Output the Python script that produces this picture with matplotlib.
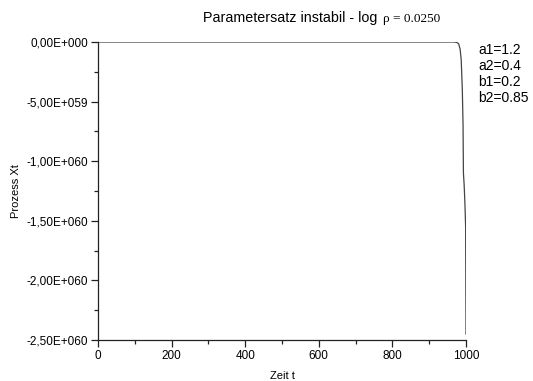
import matplotlib
matplotlib.use("Agg")
import matplotlib.pyplot as plt
from matplotlib.ticker import FixedLocator, FixedFormatter, MultipleLocator

# Data (time t, process value in units of 1e60)
t_vals = [0, 500, 900, 950, 965, 970, 975, 980, 984, 987, 990, 992, 993, 995, 997, 998, 999, 1000]
x_vals_e60 = [0, 0, 0, 0, 0, -0.001, -0.004, -0.015, -0.06, -0.15, -0.4, -0.7, -1.1, -1.2, -1.35, -1.45, -1.55, -2.45]
x_vals = [v * 1e60 for v in x_vals_e60]

y_ticks = [0, -5e59, -1e60, -1.5e60, -2e60, -2.5e60]
y_tick_labels = ["0,00E+000", "-5,00E+059", "-1,00E+060", "-1,50E+060", "-2,00E+060", "-2,50E+060"]
x_ticks = [0, 200, 400, 600, 800, 1000]
x_tick_labels = ["0", "200", "400", "600", "800", "1000"]
params = ["a1=1.2", "a2=0.4", "b1=0.2", "b2=0.85"]

plt.rcParams['font.family'] = ['Liberation Sans', 'DejaVu Sans']

fig = plt.figure(figsize=(5.33, 3.81), dpi=100)
ax = fig.add_axes([98/533, 1-340/381, (466-98)/533, (340-42)/381])

ax.plot(t_vals, x_vals, color='#444444', lw=0.9)
ax.set_xlim(0, 1000)
ax.set_ylim(-2.5e60, 0)

ax.xaxis.set_major_locator(FixedLocator(x_ticks))
ax.xaxis.set_major_formatter(FixedFormatter(x_tick_labels))
ax.xaxis.set_minor_locator(MultipleLocator(100))
ax.yaxis.set_major_locator(FixedLocator(y_ticks))
ax.yaxis.set_major_formatter(FixedFormatter(y_tick_labels))
ax.yaxis.set_minor_locator(MultipleLocator(2.5e59))

for s in ['top', 'right']:
    ax.spines[s].set_visible(False)
for s in ['left', 'bottom']:
    ax.spines[s].set_color('#222222')
    ax.spines[s].set_linewidth(0.9)

ax.tick_params(which='major', direction='out', length=5, width=0.9, labelsize=8.5, color='#222222', pad=2)
ax.tick_params(which='minor', direction='out', length=3, width=0.9, color='#222222')
ax.yaxis.get_offset_text().set_visible(False)

ax.set_xlabel("Zeit t", fontsize=8, labelpad=7)
ax.set_ylabel("Prozess Xt", fontsize=8, labelpad=4)

fig.text(203/533, 1-22/381, "Parametersatz instabil - log", fontsize=10.3, va='baseline', ha='left')
fig.text(383/533, 1-22/381, "ρ = 0.0250", fontsize=9.5, va='baseline', ha='left', family=['Liberation Serif', 'DejaVu Serif'])

for i, p in enumerate(params):
    fig.text(478/533, 1-(54 + 16*i)/381, p, fontsize=10, va='baseline', ha='left')

fig.savefig("out.png", dpi=100)
